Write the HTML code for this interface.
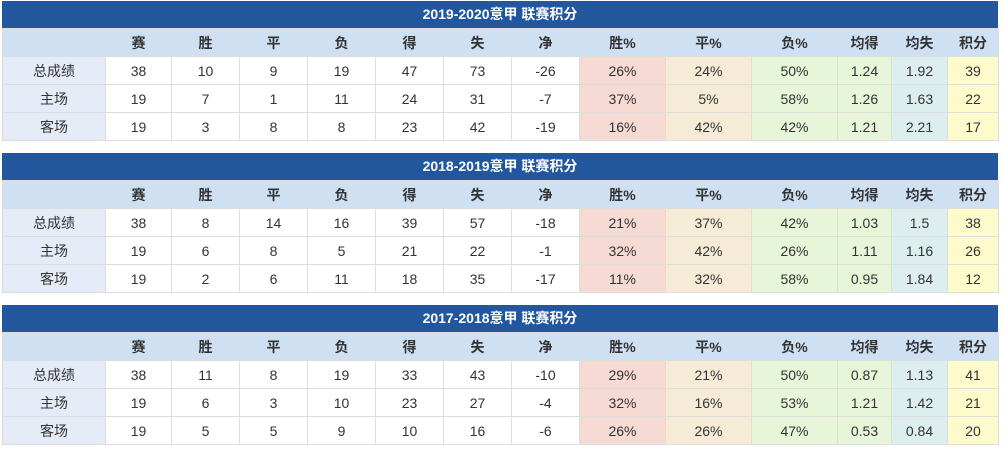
<!DOCTYPE html>
<html><head><meta charset="utf-8"><style>
body{margin:0;background:#fff;font-family:"Liberation Sans","Noto Sans CJK SC",sans-serif;color:#333;}
.wrap{position:absolute;left:2px;width:996px;}
.t{height:27px;background:#22579d;color:#fff;font-weight:bold;font-size:14px;text-align:center;line-height:27px;}
table{border-collapse:collapse;table-layout:fixed;width:996px;font-size:14px;}
td{border:1px solid #ddd;height:27px;padding:0;text-align:center;}
tr.h td{background:#cfe0f3;font-weight:bold;}
td.f{background:#e5ecf7;}
.a{background:#f5dbd3}.b{background:#f6ebd6}.c{background:#e7f5d9}.d{background:#e7f5d9}.e{background:#dcefee}.g{background:#fdfbcc}
tr.h td.a,tr.h td.b,tr.h td.c,tr.h td.d,tr.h td.e,tr.h td.g{background:#cfe0f3}
</style></head><body>
<div class="wrap" style="top:1px">
<div class="t">2019-2020意甲 联赛积分</div>
<table><colgroup><col style="width:103px"><col style="width:66px"><col style="width:68px"><col style="width:68px"><col style="width:68px"><col style="width:68px"><col style="width:68px"><col style="width:68px"><col style="width:86px"><col style="width:86px"><col style="width:86px"><col style="width:54px"><col style="width:56px"><col style="width:51px"></colgroup>
<tr class="h"><td class="f" style="background:#cfe0f3"></td><td>赛</td><td>胜</td><td>平</td><td>负</td><td>得</td><td>失</td><td>净</td><td class="a">胜%</td><td class="b">平%</td><td class="c">负%</td><td class="d">均得</td><td class="e">均失</td><td class="g">积分</td></tr>
<tr><td class="f">总成绩</td><td>38</td><td>10</td><td>9</td><td>19</td><td>47</td><td>73</td><td>-26</td><td class="a">26%</td><td class="b">24%</td><td class="c">50%</td><td class="d">1.24</td><td class="e">1.92</td><td class="g">39</td></tr>
<tr><td class="f">主场</td><td>19</td><td>7</td><td>1</td><td>11</td><td>24</td><td>31</td><td>-7</td><td class="a">37%</td><td class="b">5%</td><td class="c">58%</td><td class="d">1.26</td><td class="e">1.63</td><td class="g">22</td></tr>
<tr><td class="f">客场</td><td>19</td><td>3</td><td>8</td><td>8</td><td>23</td><td>42</td><td>-19</td><td class="a">16%</td><td class="b">42%</td><td class="c">42%</td><td class="d">1.21</td><td class="e">2.21</td><td class="g">17</td></tr>
</table></div>
<div class="wrap" style="top:153px">
<div class="t">2018-2019意甲 联赛积分</div>
<table><colgroup><col style="width:103px"><col style="width:66px"><col style="width:68px"><col style="width:68px"><col style="width:68px"><col style="width:68px"><col style="width:68px"><col style="width:68px"><col style="width:86px"><col style="width:86px"><col style="width:86px"><col style="width:54px"><col style="width:56px"><col style="width:51px"></colgroup>
<tr class="h"><td class="f" style="background:#cfe0f3"></td><td>赛</td><td>胜</td><td>平</td><td>负</td><td>得</td><td>失</td><td>净</td><td class="a">胜%</td><td class="b">平%</td><td class="c">负%</td><td class="d">均得</td><td class="e">均失</td><td class="g">积分</td></tr>
<tr><td class="f">总成绩</td><td>38</td><td>8</td><td>14</td><td>16</td><td>39</td><td>57</td><td>-18</td><td class="a">21%</td><td class="b">37%</td><td class="c">42%</td><td class="d">1.03</td><td class="e">1.5</td><td class="g">38</td></tr>
<tr><td class="f">主场</td><td>19</td><td>6</td><td>8</td><td>5</td><td>21</td><td>22</td><td>-1</td><td class="a">32%</td><td class="b">42%</td><td class="c">26%</td><td class="d">1.11</td><td class="e">1.16</td><td class="g">26</td></tr>
<tr><td class="f">客场</td><td>19</td><td>2</td><td>6</td><td>11</td><td>18</td><td>35</td><td>-17</td><td class="a">11%</td><td class="b">32%</td><td class="c">58%</td><td class="d">0.95</td><td class="e">1.84</td><td class="g">12</td></tr>
</table></div>
<div class="wrap" style="top:305px">
<div class="t">2017-2018意甲 联赛积分</div>
<table><colgroup><col style="width:103px"><col style="width:66px"><col style="width:68px"><col style="width:68px"><col style="width:68px"><col style="width:68px"><col style="width:68px"><col style="width:68px"><col style="width:86px"><col style="width:86px"><col style="width:86px"><col style="width:54px"><col style="width:56px"><col style="width:51px"></colgroup>
<tr class="h"><td class="f" style="background:#cfe0f3"></td><td>赛</td><td>胜</td><td>平</td><td>负</td><td>得</td><td>失</td><td>净</td><td class="a">胜%</td><td class="b">平%</td><td class="c">负%</td><td class="d">均得</td><td class="e">均失</td><td class="g">积分</td></tr>
<tr><td class="f">总成绩</td><td>38</td><td>11</td><td>8</td><td>19</td><td>33</td><td>43</td><td>-10</td><td class="a">29%</td><td class="b">21%</td><td class="c">50%</td><td class="d">0.87</td><td class="e">1.13</td><td class="g">41</td></tr>
<tr><td class="f">主场</td><td>19</td><td>6</td><td>3</td><td>10</td><td>23</td><td>27</td><td>-4</td><td class="a">32%</td><td class="b">16%</td><td class="c">53%</td><td class="d">1.21</td><td class="e">1.42</td><td class="g">21</td></tr>
<tr><td class="f">客场</td><td>19</td><td>5</td><td>5</td><td>9</td><td>10</td><td>16</td><td>-6</td><td class="a">26%</td><td class="b">26%</td><td class="c">47%</td><td class="d">0.53</td><td class="e">0.84</td><td class="g">20</td></tr>
</table></div>
</body></html>
